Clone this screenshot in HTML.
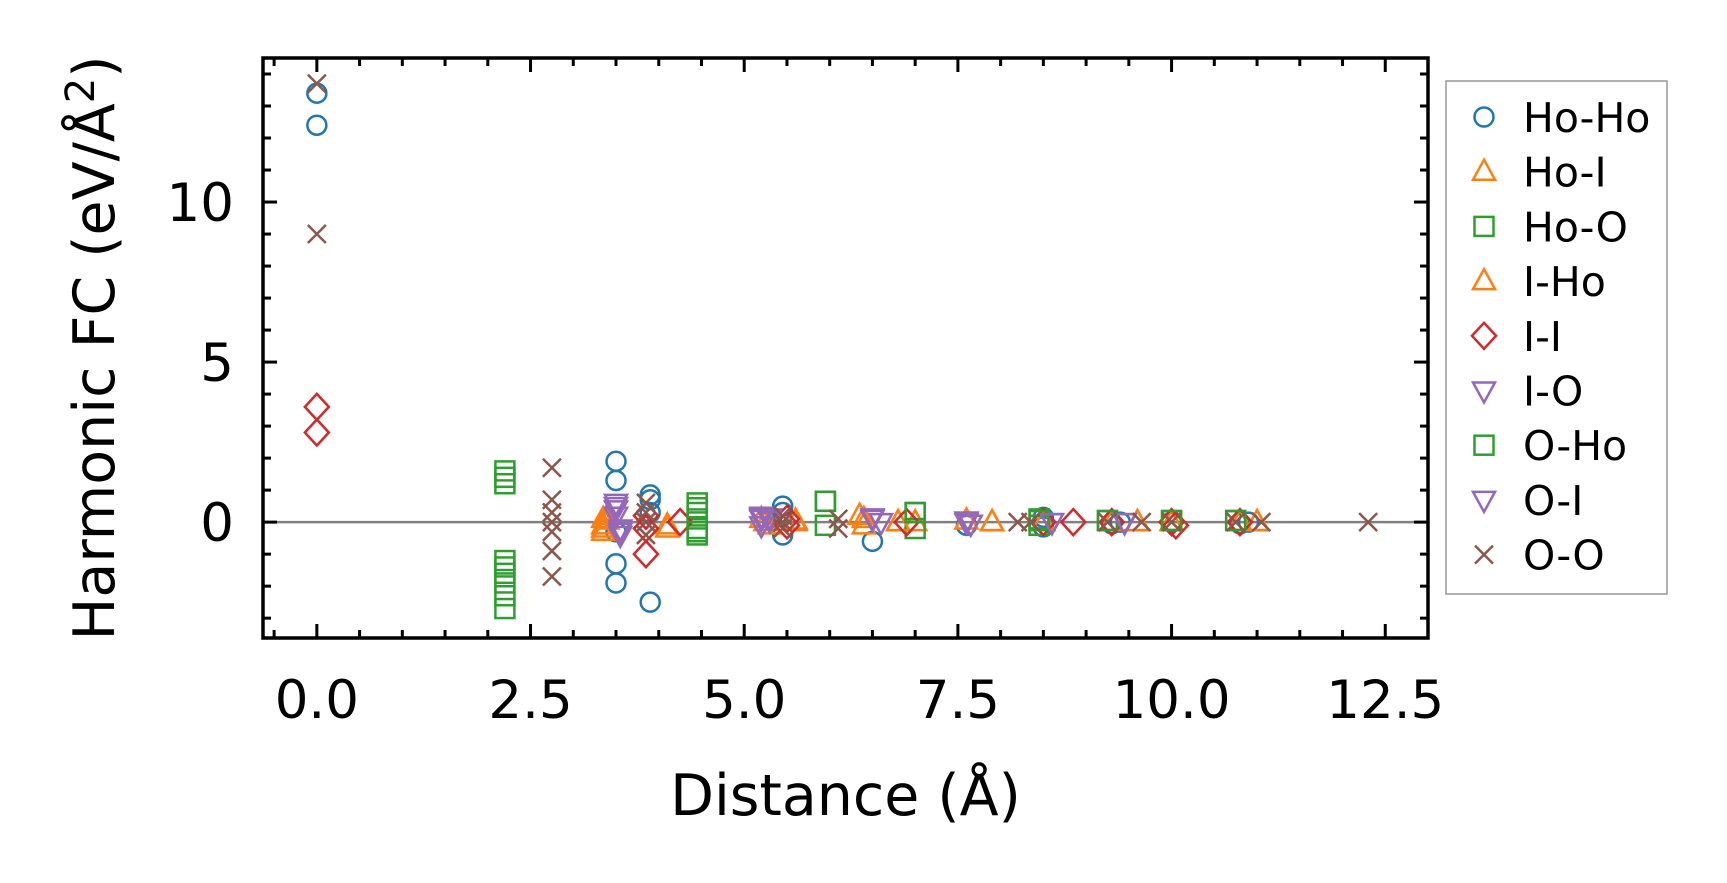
<!DOCTYPE html>
<html><head><meta charset="utf-8"><style>
html,body{margin:0;padding:0;background:#fff;}
svg{display:block;font-family:"DejaVu Sans","Liberation Sans",sans-serif;}
</style></head><body>
<svg id="chart" width="1727" height="883" viewBox="0 0 1727 883"></svg>
<script>
const seriesNames=["Ho-Ho","Ho-I","Ho-O","I-Ho","I-I","I-O","O-Ho","O-I","O-O"];
const xTicks=[0,2.5,5,7.5,10,12.5];
const xTickLabels=["0.0","2.5","5.0","7.5","10.0","12.5"];
const yTicks=[0,5,10];
const yTickLabels=["0","5","10"];
const hoHoX=[0,0,3.5,3.5,3.5,3.5,3.5,3.9,3.9,3.9,3.9,5.45,5.45,5.45,6.5,7.6,8.5,8.5,9.3,9.4,10.0,10.8,10.9];
const hoHoY=[13.4,12.4,1.9,1.3,-1.3,-1.9,-0.3,0.85,0.7,0.3,-2.5,0.5,0.3,-0.4,-0.6,-0.1,0.15,-0.15,-0.05,0,0,-0.05,0];
const hoIX=[3.35,3.35,3.35,3.4,4.1,5.2,5.3,5.6,6.35,6.4,6.8,7.0,7.6,7.9,8.5,9.3,9.6,10.0,10.8,11.0];
const hoIY=[0.1,-0.1,-0.3,0.2,-0.1,0.1,-0.1,0,0.2,-0.1,0,0,0.05,0,0,0,0,0,0,0];
const hoOX=[2.2,2.2,2.2,2.2,2.2,2.2,2.2,4.45,4.45,4.45,4.45,4.45,5.95,5.95,7.0,7.0,8.45,8.45,9.25,10.0,10.75];
const hoOY=[1.6,1.2,-1.2,-1.6,-1.9,-2.3,-2.7,0.6,0.3,0.1,-0.2,-0.4,0.65,-0.1,0.3,-0.2,0.1,-0.1,0.05,0.05,0.05];
const iHoX=[3.35,3.4,4.1,5.25,5.6,6.4,6.8,7.9,9.6,11.0];
const iHoY=[-0.2,0.05,-0.2,0,0.05,0.1,0,0,0,0];
const iIX=[0,0,3.85,3.85,3.85,4.25,5.5,5.5,6.9,8.5,8.85,9.3,10.0,10.05,10.8];
const iIY=[3.6,2.8,0.2,-0.2,-1.0,0,0.1,-0.1,0,0,0,0,0,-0.1,0];
const iOX=[3.5,3.5,3.5,3.55,3.55,5.2,5.2,5.2,5.3,6.5,6.6,7.6,7.65,8.6,9.45];
const iOY=[0.6,0.4,0.2,-0.2,-0.4,0.2,0.1,-0.1,0.15,0.15,0,0.05,-0.05,0,0];
const oHoX=[2.2,2.2,4.45,4.45,5.95,7.0,8.45,9.25,10.0,10.75];
const oHoY=[1.4,-1.4,0.45,-0.3,0.65,0.3,0.05,0.05,0.05,0.05];
const oIX=[3.5,3.55,5.2,5.3,6.5,7.6,8.6,9.45];
const oIY=[0.5,-0.3,0.15,0.05,0.1,0,0,0];
const oOX=[0,0,2.75,2.75,2.75,2.75,2.75,2.75,2.75,3.85,3.85,3.85,3.85,5.45,5.45,5.45,6.1,6.1,8.2,8.35,9.25,9.65,10.0,10.75,11.05,12.3];
const oOY=[13.7,9.0,1.7,0.7,0.3,0,-0.3,-0.9,-1.7,0.6,0.3,0,-0.4,0.2,0,-0.2,0.1,-0.2,0,0,0,0,0,0,0,0];

const NS="http://www.w3.org/2000/svg";
const svg=document.getElementById('chart');
const L=263,R=1428,T=58,B=638;
const xMin=-0.63,xMax=13.0,yMin=-3.62,yMax=14.5;
function sx(v){return L+(v-xMin)/(xMax-xMin)*(R-L);}
function sy(v){return B-(v-yMin)/(yMax-yMin)*(B-T);}
function mk(tag,attrs,parent){const e=document.createElementNS(NS,tag);for(const k in attrs)e.setAttribute(k,attrs[k]);(parent||svg).appendChild(e);return e;}

const blue="#1f77b4",orange="#ff7f0e",green="#2ca02c",red="#d62728",purple="#9467bd",brown="#8c564b";
function drawMarker(g,type,cx,cy,color){
  let e;
  const sw=2.5;
  if(type==='o'){e=mk('circle',{cx:cx,cy:cy,r:9.5,fill:'none',stroke:color,'stroke-width':sw},g);}
  else if(type==='^'){e=mk('polygon',{points:`${cx},${cy-12} ${cx-11},${cy+8} ${cx+11},${cy+8}`,fill:'none',stroke:color,'stroke-width':sw},g);}
  else if(type==='v'){e=mk('polygon',{points:`${cx},${cy+12} ${cx-11},${cy-8} ${cx+11},${cy-8}`,fill:'none',stroke:color,'stroke-width':sw},g);}
  else if(type==='s'){e=mk('rect',{x:cx-9.5,y:cy-9.5,width:19,height:19,fill:'none',stroke:color,'stroke-width':sw},g);}
  else if(type==='D'){e=mk('polygon',{points:`${cx},${cy-13} ${cx+12},${cy} ${cx},${cy+13} ${cx-12},${cy}`,fill:'none',stroke:color,'stroke-width':sw},g);}
  else {e=mk('path',{d:`M${cx-9},${cy-9}L${cx+9},${cy+9}M${cx-9},${cy+9}L${cx+9},${cy-9}`,fill:'none',stroke:color,'stroke-width':sw},g);}
  
  
  return e;
}
const series=[
 {n:0,xs:hoHoX,ys:hoHoY,t:'o',c:blue},
 {n:1,xs:hoIX,ys:hoIY,t:'^',c:orange},
 {n:2,xs:hoOX,ys:hoOY,t:'s',c:green},
 {n:3,xs:iHoX,ys:iHoY,t:'^',c:orange},
 {n:4,xs:iIX,ys:iIY,t:'D',c:red},
 {n:5,xs:iOX,ys:iOY,t:'v',c:purple},
 {n:6,xs:oHoX,ys:oHoY,t:'s',c:green},
 {n:7,xs:oIX,ys:oIY,t:'v',c:purple},
 {n:8,xs:oOX,ys:oOY,t:'x',c:brown}];

const zl=mk('line',{x1:L,x2:R,y1:sy(0),y2:sy(0),stroke:'#808080','stroke-width':2.5});



series.forEach(s=>{
  const g=mk('g',{});
  
  
  for(let i=0;i<s.xs.length;i++)drawMarker(g,s.t,sx(s.xs[i]),sy(s.ys[i]),s.c);
});

const fr=mk('rect',{x:L,y:T,width:R-L,height:B-T,fill:'none',stroke:'#000','stroke-width':3.5});



const tg=mk('g',{stroke:'#000','stroke-width':3});


for(let v=-0.5;v<=13.0;v+=0.5){
  const major=Math.abs(v/2.5-Math.round(v/2.5))<1e-6;
  const len=major?14:8,x=sx(v);
  mk('line',{x1:x,x2:x,y1:B,y2:B-len},tg);
  mk('line',{x1:x,x2:x,y1:T,y2:T+len},tg);
}
for(let v=-3;v<=14;v+=1){
  const major=v%5===0;
  const len=major?14:8,y=sy(v);
  mk('line',{x1:L,x2:L+len,y1:y,y2:y},tg);
  mk('line',{x1:R,x2:R-len,y1:y,y2:y},tg);
}
xTicks.forEach((v,i)=>{
  const t=mk('text',{x:sx(v),y:718,'text-anchor':'middle','font-size':53,fill:'#000'});
  t.textContent=xTickLabels[i];
  
  
});
yTicks.forEach((v,i)=>{
  const t=mk('text',{x:234,y:sy(v)+19,'text-anchor':'end','font-size':53,fill:'#000'});
  t.textContent=yTickLabels[i];
  
  
});
const xl=mk('text',{x:(L+R)/2,y:815,'text-anchor':'middle','font-size':57,fill:'#000'});
xl.textContent='Distance (Å)';


const yl=mk('text',{x:0,y:0,'text-anchor':'middle','font-size':57,fill:'#000',transform:`translate(114,${(T+B)/2}) rotate(-90)`});
yl.innerHTML='Harmonic FC (eV/Å<tspan dy="-20" font-size="40">2</tspan><tspan dy="20">)</tspan>';



const lg=mk('g',{});


mk('rect',{x:1446,y:81,width:221,height:513,fill:'#fff',stroke:'#999','stroke-width':1.5},lg);
series.forEach((s,i)=>{
  const y=117+i*54.7;
  const eg=mk('g',{},lg);
  
  
  drawMarker(eg,s.t,1484,y,s.c);
  const t=mk('text',{x:1523,y:y+15,'font-size':41,fill:'#000'},eg);
  t.textContent=seriesNames[s.n];
});
</script>
</body></html>
